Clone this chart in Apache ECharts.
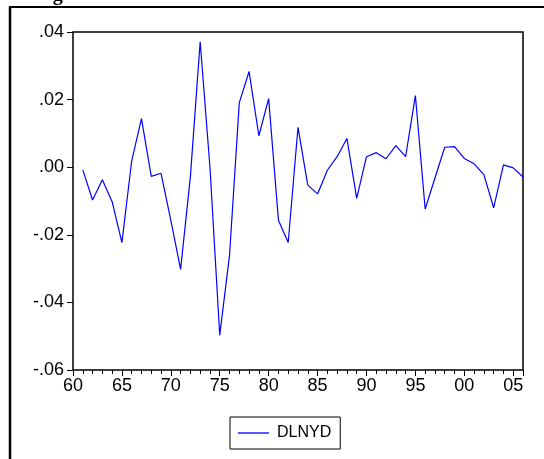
<!DOCTYPE html>
<html>
<head>
<meta charset="utf-8">
<script src="https://cdn.jsdelivr.net/npm/echarts@6/dist/echarts.min.js"></script>
<style>
html,body{margin:0;padding:0;background:#fff;}
#chart{width:544px;height:459px;}
</style>
</head>
<body>
<div id="chart"></div>
<script>
var years = [1961,1962,1963,1964,1965,1966,1967,1968,1969,1970,
             1971,1972,1973,1974,1975,1976,1977,1978,1979,1980,
             1981,1982,1983,1984,1985,1986,1987,1988,1989,1990,
             1991,1992,1993,1994,1995,1996,1997,1998,1999,2000,
             2001,2002,2003,2004,2005,2006];
var dlnyd = [-0.0008,-0.0097,-0.0037,-0.0102,-0.0223,0.0019,0.0144,-0.0027,-0.0018,-0.0157,
             -0.0302,-0.0028,0.0371,0.0000,-0.0497,-0.0261,0.0191,0.0283,0.0093,0.0203,
             -0.0157,-0.0223,0.0118,-0.0053,-0.0079,-0.0009,0.0031,0.0085,-0.0092,0.0031,
             0.0043,0.0025,0.0064,0.0031,0.0212,-0.0124,-0.0032,0.0059,0.0061,0.0026,
             0.0010,-0.0022,-0.0120,0.0007,-0.0002,-0.0029];
var seriesName = 'DLNYD';
var yTicks = [-0.06,-0.04,-0.02,0.00,0.02,0.04];
var xMin = 1960, xMax = 2006;

var chart = echarts.init(document.getElementById('chart'), null, {renderer:'canvas'});
var pts = years.map(function(y,i){return [y, dlnyd[i]];});

function yFmt(v){
  var s = Math.abs(v) < 1e-9 ? '0.00' : v.toFixed(2);
  return s.replace('0.', '.');
}
function xFmt(v){
  var r = Math.round(v);
  if (r % 5 !== 0) return '';
  var m = r % 100;
  return (m < 10 ? '0' : '') + m;
}

var font = 'Liberation Sans, Arial, sans-serif';
chart.setOption({
  animation:false,
  backgroundColor:'#fff',
  grid:{left:73, top:32, right:21, bottom:89, show:true, borderColor:'#000', borderWidth:1.5, containLabel:false},
  legend:{
    left:230, top:417,
    data:[{name:seriesName, icon:'rect', itemStyle:{color:'#0000ff'}}],
    itemWidth:31, itemHeight:1.3,
    padding:[8,9,8,8],
    borderColor:'#000', borderWidth:1,
    textStyle:{fontFamily:font, fontSize:16, color:'#000', padding:[0,0,0,3]}
  },
  xAxis:[{
    type:'value', min:xMin, max:xMax, interval:1,
    axisLine:{show:false, onZero:false},
    axisTick:{show:true, length:4, lineStyle:{color:'#000', width:1}},
    axisLabel:{formatter:xFmt, fontFamily:font, fontSize:18, color:'#000', margin:7},
    splitLine:{show:false}
  },{
    type:'value', min:xMin, max:xMax, interval:5, position:'bottom',
    axisLine:{show:false, onZero:false},
    axisTick:{show:true, length:6, lineStyle:{color:'#000', width:1}},
    axisLabel:{show:false},
    splitLine:{show:false}
  }],
  yAxis:{
    type:'value', min:yTicks[0], max:yTicks[yTicks.length-1], interval:0.02,
    axisLine:{show:false, onZero:false},
    axisTick:{show:true, length:6, lineStyle:{color:'#000', width:1}},
    axisLabel:{formatter:yFmt, fontFamily:font, fontSize:18, color:'#000', margin:9},
    splitLine:{show:false}
  },
  series:[{
    name:seriesName, type:'line', data:pts, xAxisIndex:0,
    showSymbol:false, symbol:'none',
    lineStyle:{color:'#0000ff', width:1.2},
    itemStyle:{color:'#0000ff'}
  }],
  graphic:[
    {type:'line', shape:{x1:9, y1:7, x2:544, y2:7}, style:{stroke:'#000', lineWidth:2}},
    {type:'line', shape:{x1:10, y1:7, x2:10, y2:459}, style:{stroke:'#000', lineWidth:2.5}},
    {type:'text', x:35, y:5, style:{text:'Figure 3.3:', font:'bold 20px "Liberation Serif", serif', fill:'#000', textVerticalAlign:'bottom', verticalAlign:'bottom'}}
  ]
});
</script>
</body>
</html>
